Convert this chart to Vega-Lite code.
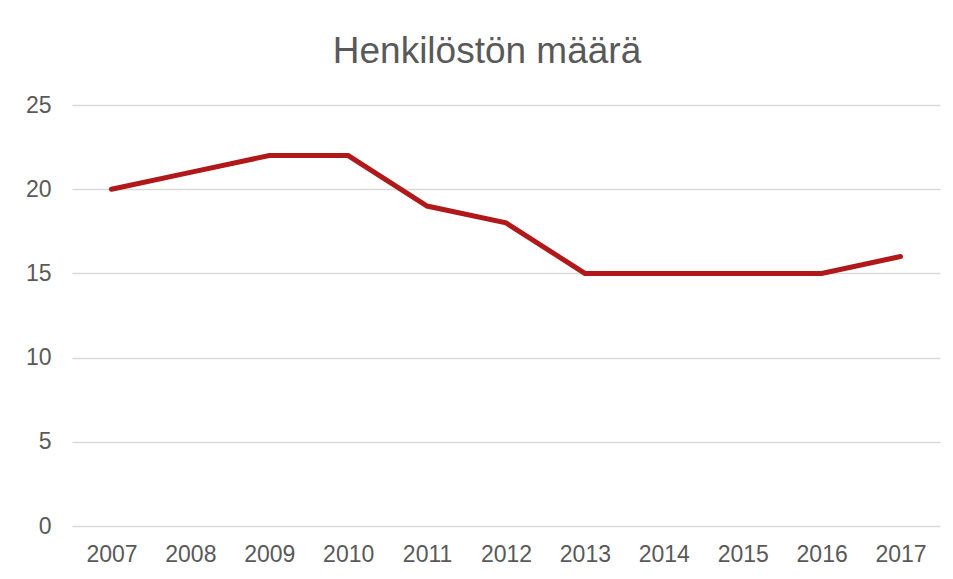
{
  "$schema": "https://vega.github.io/schema/vega-lite/v6.json",
  "width": 868,
  "height": 421,
  "autosize": {"type": "none"},
  "padding": {"left": 72, "top": 105, "right": 13, "bottom": 53},
  "background": "white",
  "title": {
    "text": "Henkilöstön määrä",
    "font": "Liberation Sans",
    "fontSize": 37,
    "fontWeight": "normal",
    "color": "#595959",
    "anchor": "middle",
    "baseline": "bottom",
    "offset": -14,
    "dx": -19
  },
  "data": {
    "values": [
      {"vuosi": "2007", "maara": 20},
      {"vuosi": "2008", "maara": 21},
      {"vuosi": "2009", "maara": 22},
      {"vuosi": "2010", "maara": 22},
      {"vuosi": "2011", "maara": 19},
      {"vuosi": "2012", "maara": 18},
      {"vuosi": "2013", "maara": 15},
      {"vuosi": "2014", "maara": 15},
      {"vuosi": "2015", "maara": 15},
      {"vuosi": "2016", "maara": 15},
      {"vuosi": "2017", "maara": 16}
    ]
  },
  "mark": {"type": "line", "color": "#B0181A", "strokeWidth": 5, "strokeCap": "round", "strokeJoin": "miter"},
  "encoding": {
    "x": {
      "field": "vuosi",
      "type": "ordinal",
      "scale": {"type": "point", "padding": 0.5},
      "axis": {
        "title": null,
        "labelAngle": 0,
        "domain": false,
        "ticks": false,
        "grid": false,
        "labelFont": "Liberation Sans",
        "labelFontSize": 23,
        "labelColor": "#595959",
        "labelPadding": 17
      }
    },
    "y": {
      "field": "maara",
      "type": "quantitative",
      "scale": {"domain": [0, 25], "nice": false},
      "axis": {
        "title": null,
        "values": [0, 5, 10, 15, 20, 25],
        "domain": false,
        "ticks": false,
        "grid": true,
        "gridColor": "#D9D9D9",
        "gridWidth": 1.5,
        "labelFont": "Liberation Sans",
        "labelFontSize": 23,
        "labelColor": "#595959",
        "labelPadding": 21
      }
    }
  },
  "config": {"view": {"stroke": null}}
}
